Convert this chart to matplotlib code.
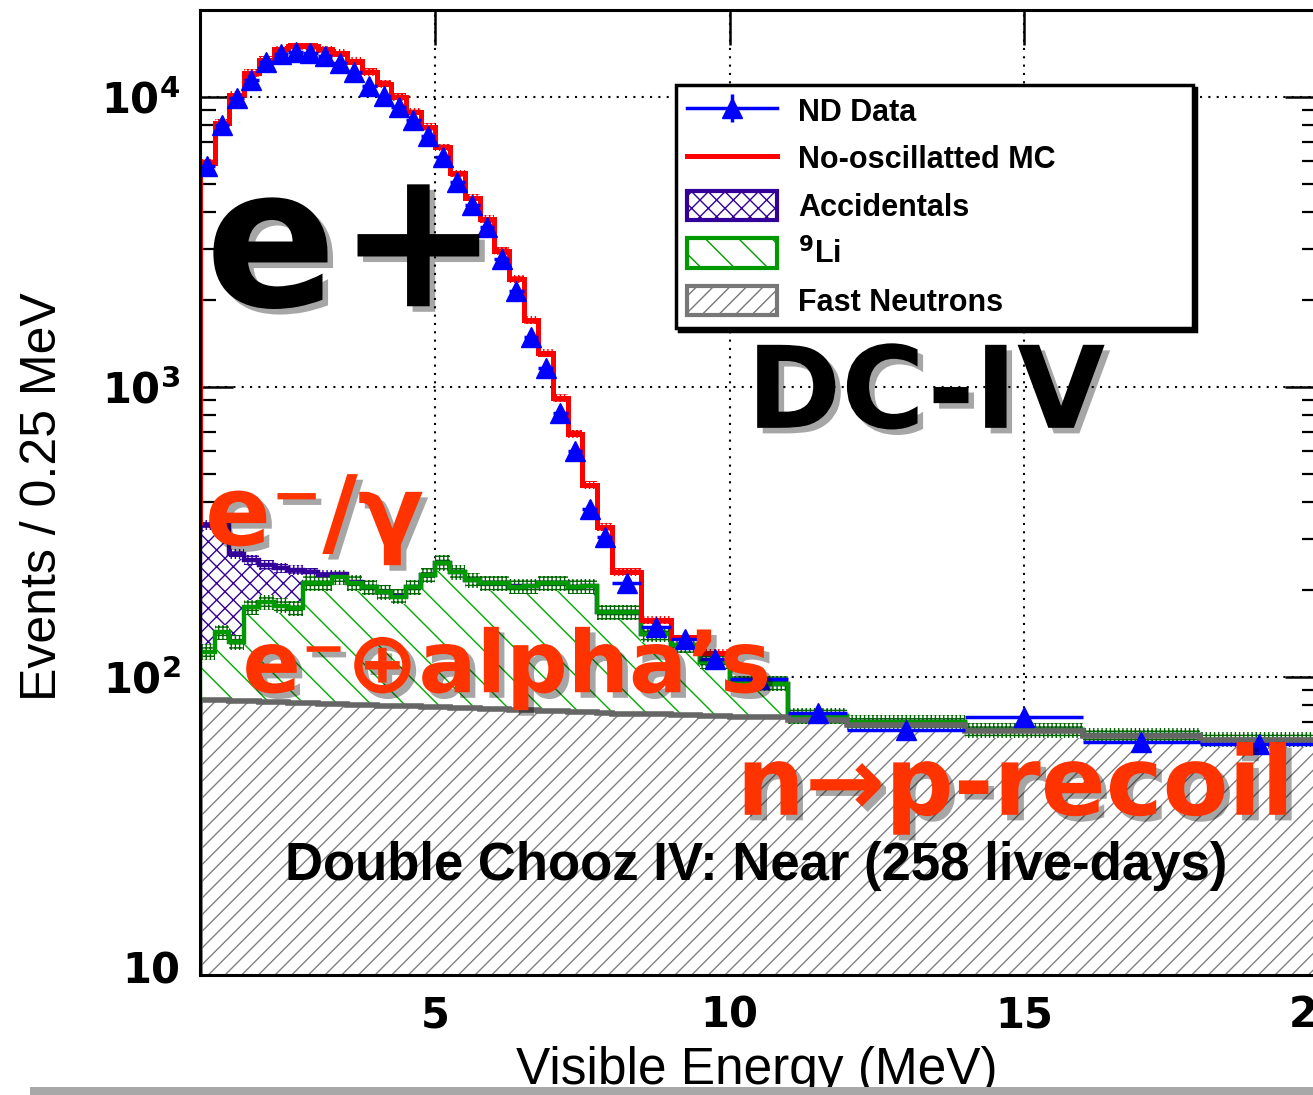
import numpy as np
import matplotlib.pyplot as plt
import matplotlib.patheffects as pe
from matplotlib.lines import Line2D
from matplotlib.patches import Patch, Rectangle

plt.rcParams['font.family'] = ['DejaVu Sans']
plt.rcParams['mathtext.fontset'] = 'dejavusans'
plt.rcParams['hatch.linewidth'] = 1.0

# binning: 0.25 MeV up to 8 MeV, coarser above
edges = np.concatenate([np.arange(1.0, 8.01, 0.25),
                        [8.5, 9.0, 9.5, 10.0, 11.0, 12.0, 14.0, 16.0, 18.0, 20.0]])

# near detector data (events / 0.25 MeV)
nd_data = [5800, 8000, 9930, 11460, 13200, 14050, 14300, 14180, 13840, 13100,
           12190, 10910, 10070, 9240, 8330, 7340, 6210, 5090, 4250, 3565,
           2763, 2143, 1487, 1163, 813, 601, 380, 304,
           211, 149, 135, 115, 98, 75, 65.5, 73, 59.5, 58.7]

# no-oscillation MC on top of the backgrounds, drawn up to 10 MeV
mc_total = [5940, 8160, 10160, 12100, 13400, 14600, 14950, 14950, 14600, 14160,
            13300, 12200, 11100, 10000, 8900, 7900, 6700, 5450, 4500, 3800,
            2950, 2355, 1700, 1310, 916, 689, 460, 329,
            230, 157, 136, 121]

# background components (stacked: fast-n, then 9Li, then accidentals)
fast_n = [83.3, 83.0, 82.7, 82.4, 82.1, 81.8, 81.5, 81.2, 80.9, 80.6,
          80.3, 80.0, 79.7, 79.4, 79.1, 78.8, 78.5, 78.2, 77.9, 77.6,
          77.3, 77.0, 76.7, 76.4, 76.1, 75.8, 75.5, 75.2,
          74.8, 74.3, 73.8, 73.3, 72.5, 71.0, 68.2, 65.2, 62.7, 60.7]
li9 = [38.8, 60.0, 49.4, 91.7, 99.0, 94.3, 91.6, 130, 130, 140,
       131, 124, 116, 110, 125, 146, 169, 152, 138, 133,
       133.8, 128, 128.4, 134.7, 135, 129, 129.6, 92,
       92.3, 65.8, 55.0, 39.6, 22.4, 2.5, 1.5, 0.3, 0.2, 0.1]
accid = [213, 192, 133, 79, 62, 61, 61, 18, 14, 5,
         2.0, 1.0, 0.5, 0.4, 0.3, 0.3, 0.2, 0.2, 0.2, 0.1,
         0.1, 0.1, 0.1, 0.1, 0.1, 0.1, 0.1, 0.1,
         0.0, 0.0, 0.0, 0.0, 0.0, 0.0, 0.0, 0.0, 0.0, 0.0]

mc_unc = 0.03
bkg_unc = 0.06
acc_unc = 0.04

blue = '#0000ff'
red = '#ff0000'
purple = '#330099'
green = '#009900'
grey = '#666666'
txt_red = '#ff3300'

fn = np.array(fast_n)
li = fn + np.array(li9)
acc = li + np.array(accid)
mc = np.array(mc_total)
mc_edges = edges[:len(mc) + 1]
centers = 0.5 * (edges[:-1] + edges[1:])
halfw = 0.5 * np.diff(edges)

fig = plt.figure(figsize=(13.13, 10.95), dpi=100)
ax = fig.add_axes([200 / 1313, 120 / 1095, 1118 / 1313, 965 / 1095])
ax.set_yscale('log')
ax.set_xlim(1.0, 20.0)
ax.set_ylim(9.38, 19950)

# stacked backgrounds
ax.stairs(fn, edges, baseline=1, fill=True, facecolor='white',
          edgecolor='#808080', hatch='//', lw=0, zorder=2)
ax.stairs(li, edges, baseline=fn, fill=True, facecolor='white',
          edgecolor='#00aa00', hatch='\\', lw=0, zorder=2)
ax.stairs(acc, edges, baseline=li, fill=True, facecolor='white',
          edgecolor=purple, hatch='xx', lw=0, zorder=2)

# uncertainty bands
ax.stairs(mc * (1 + mc_unc), mc_edges, baseline=mc * (1 - mc_unc), fill=True,
          facecolor='white', edgecolor=red, hatch='++++', lw=0, zorder=3)
ax.stairs(acc * (1 + acc_unc), edges, baseline=acc * (1 - acc_unc), fill=True,
          facecolor='white', edgecolor=purple, hatch='++++', lw=0, zorder=3)
ax.stairs(li * (1 + bkg_unc), edges, baseline=li * (1 - bkg_unc), fill=True,
          facecolor='white', edgecolor='#006600', hatch='++++', lw=0, zorder=3)

# outlines
ax.stairs(acc, edges, baseline=None, color=purple, lw=3.2, zorder=4)
ax.stairs(li, edges, baseline=None, color=green, lw=3.2, zorder=4)
ax.stairs(fn, edges, baseline=None, color=grey, lw=4, zorder=4)
ax.stairs(mc, mc_edges, baseline=None, color=red, lw=3.6, zorder=4)
ax.vlines(edges[0], li[0], acc[0], color=purple, lw=3.2, zorder=4)
ax.vlines(edges[0], fn[0], li[0], color=green, lw=3.2, zorder=4)
ax.vlines(edges[0], 1, fn[0], color=grey, lw=4, zorder=4)
ax.vlines(edges[0], acc[0], mc[0], color=red, lw=3.6, zorder=4)

# data
ax.errorbar(centers, nd_data, xerr=halfw, fmt='^', color=blue, ms=15,
            elinewidth=2.5, capsize=0, zorder=5)

# axes styling
ax.grid(True, which='major', color='black', ls=(0, (1, 3)), lw=1.5)
ax.set_axisbelow(True)
for s in ax.spines.values():
    s.set_linewidth(2.2)
    s.set_zorder(6)
ax.set_xticks([5, 10, 15, 20])
ax.set_xticklabels(['5', '10', '15', '20'], fontweight='bold')
ax.set_yticks([10, 100, 1000, 10000])
ax.set_yticklabels(['10', r'$\mathbf{10^{2}}$', r'$\mathbf{10^{3}}$', r'$\mathbf{10^{4}}$'],
                   fontweight='bold')
ax.xaxis.set_minor_locator(plt.NullLocator())
ax.tick_params(which='both', direction='in', top=True, right=True)
ax.tick_params(axis='x', which='major', length=25, width=1.8, labelsize=30, pad=14)
ax.tick_params(axis='y', which='major', length=24, width=1.8, labelsize=30, pad=14)
ax.tick_params(axis='y', which='minor', length=11.5, width=1.6)

fig.text(43 / 1313, 1 - 497 / 1095, 'Events / 0.25 MeV', rotation=90,
         fontsize=36, family='Liberation Sans', ha='center', va='center')
fig.text(757 / 1313, 1 - 1084 / 1095, 'Visible Energy (MeV)', fontsize=37,
         family='Liberation Sans', ha='center', va='baseline')

# legend
h_data = (Line2D([], [], color=blue, lw=2.5, marker='|', ms=20, mew=2.5),
          Line2D([], [], color=blue, ls='none', marker='^', ms=15))
h_mc = Line2D([], [], color=red, lw=3.6)
h_acc = Patch(facecolor='white', edgecolor=purple, hatch='xx', lw=3)
h_li = Patch(facecolor='white', edgecolor=green, hatch='\\', lw=3)
h_fn = Patch(facecolor='white', edgecolor='#777777', hatch='//', lw=3)
leg = ax.legend([h_data, h_mc, h_acc, h_li, h_fn],
                ['ND Data', 'No-oscillatted MC', 'Accidentals', r'$^{\mathbf{9}}$Li',
                 'Fast Neutrons'],
                loc='upper left', bbox_to_anchor=(0.426, 0.674, 0.462, 0.248),
                mode='expand', borderaxespad=0, fancybox=False,
                shadow={'color': 'black', 'alpha': 1},
                framealpha=1, edgecolor='black', handlelength=2.95, handleheight=1.1,
                handletextpad=0.7, labelspacing=0.5, borderpad=0.35,
                prop={'family': 'Liberation Sans', 'weight': 'bold', 'size': 22})
leg.get_frame().set_linewidth(2.5)
leg.set_zorder(10)

# annotations
shadow = [pe.withSimplePatchShadow(offset=(4, -4), shadow_rgbFace='black', alpha=0.35)]
ax.text(0.0045, 0.693, 'e+', transform=ax.transAxes, fontsize=140, fontweight='bold',
        color='black', path_effects=shadow, zorder=8)
ax.text(0.489, 0.567, 'DC-IV', transform=ax.transAxes, fontsize=82, fontweight='bold',
        color='black', path_effects=shadow, zorder=8)
ax.text(0.0045, 0.4456, 'e\u207b/\u03b3', transform=ax.transAxes, fontsize=70,
        fontweight='bold', color=txt_red, path_effects=shadow, zorder=8)
ax.text(0.038, 0.293, 'e\u207b\u2295alpha\u2019s', transform=ax.transAxes, fontsize=62,
        fontweight='bold', color=txt_red, path_effects=shadow, zorder=8)
ax.text(0.480, 0.166, 'n\u2192p-recoil', transform=ax.transAxes, fontsize=69,
        fontweight='bold', color=txt_red, path_effects=shadow, zorder=8, clip_on=False)
ax.text(0.076, 0.098, 'Double Chooz IV: Near (258 live-days)', transform=ax.transAxes,
        fontsize=38, fontweight='bold', family='Liberation Sans', color='black', zorder=8)

# grey strip along the lower edge
fig.add_artist(Rectangle((30 / 1313, 0), 1, 8 / 1095, transform=fig.transFigure,
                         facecolor='#a8a8a8', edgecolor='none', zorder=20))

fig.savefig('out.png', dpi=100)
